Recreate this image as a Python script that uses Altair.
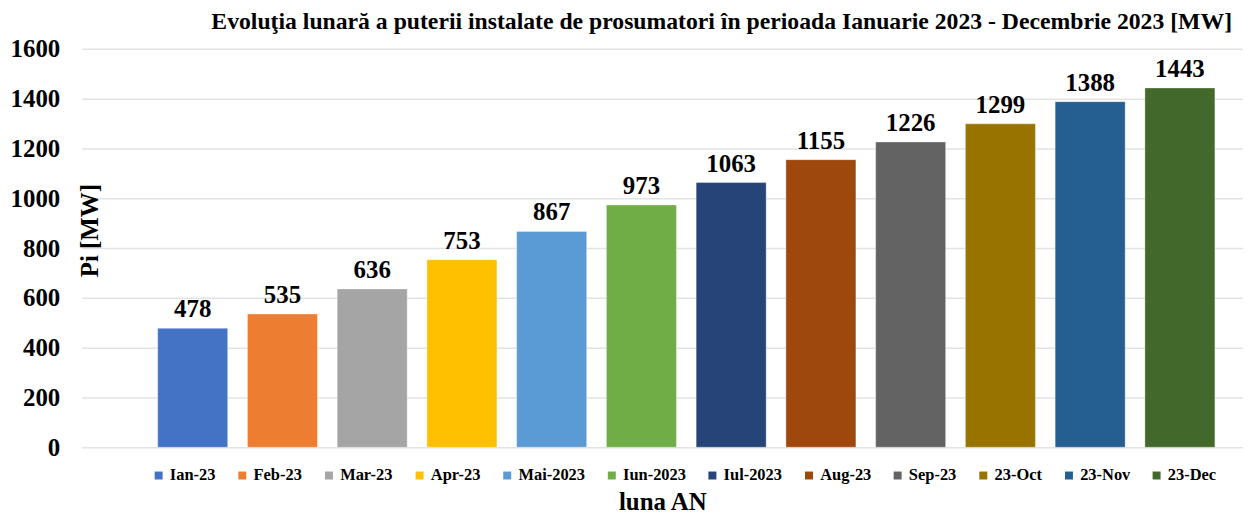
import altair as alt
import pandas as pd

months = ["Ian-23", "Feb-23", "Mar-23", "Apr-23", "Mai-2023", "Iun-2023",
          "Iul-2023", "Aug-23", "Sep-23", "23-Oct", "23-Nov", "23-Dec"]
values = [478, 535, 636, 753, 867, 973, 1063, 1155, 1226, 1299, 1388, 1443]
colors = ["#4472C4", "#ED7D31", "#A5A5A5", "#FFC000", "#5B9BD5", "#70AD47",
          "#264478", "#9E480E", "#636363", "#997300", "#255E91", "#43682B"]
y_ticks = [0, 200, 400, 600, 800, 1000, 1200, 1400, 1600]

df = pd.DataFrame({"luna": months, "Pi": values})
FONT = "Liberation Serif"

x = alt.X("luna:N", sort=months,
          scale=alt.Scale(domain=months, paddingInner=0.22, paddingOuter=0.58, align=0.73),
          axis=alt.Axis(title="luna AN", labels=False, ticks=False, domain=False, grid=False,
                        titleFont=FONT, titleFontSize=25, titleFontWeight="bold", titleColor="#000000",
                        titleBaseline="alphabetic", titleY=63))
y = alt.Y("Pi:Q", scale=alt.Scale(domain=[0, 1600], nice=False),
          axis=alt.Axis(title="Pi [MW]", values=y_ticks, format="d", ticks=False, domain=False,
                        grid=True, gridColor="#E3E3E3", gridWidth=1.5,
                        labelFont=FONT, labelFontSize=25, labelFontWeight="bold", labelColor="#000000",
                        labelPadding=22,
                        titleFont=FONT, titleFontSize=25, titleFontWeight="bold", titleColor="#000000",
                        titleAngle=-90, titleX=21, titleY=182, titleBaseline="bottom", titleAlign="center"))

bars = alt.Chart(df).mark_bar(stroke="#ffffff", strokeOpacity=0.35, strokeWidth=1).encode(
    x=x, y=y,
    color=alt.Color("luna:N", sort=months,
                    scale=alt.Scale(domain=months, range=colors),
                    legend=alt.Legend(title=None, orient="none", legendX=69, legendY=420,
                                      direction="horizontal", columns=12, columnPadding=18,
                                      symbolType="square", symbolSize=64, symbolStrokeWidth=0,
                                      labelFont=FONT, labelFontSize=16.5, labelFontWeight="bold",
                                      labelColor="#000000", labelOffset=3, labelLimit=200)),
)

labels = alt.Chart(df).mark_text(baseline="bottom", dy=-6, font=FONT, fontSize=25,
                                 fontWeight="bold", color="#000000").encode(
    x=x, y=y, text=alt.Text("Pi:Q"))

chart = (bars + labels).properties(
    width=1166, height=400,
    autosize=alt.AutoSizeParams(type="none"),
    padding={"left": 74, "top": 40, "right": 0, "bottom": 70},
    title=alt.TitleParams(
        "Evoluţia lunară a puterii instalate de prosumatori în perioada Ianuarie 2023 - Decembrie 2023 [MW]",
        anchor="end", frame="group", font=FONT, fontSize=23.8, fontWeight="bold",
        color="#000000", offset=3, dx=-11),
).configure_view(stroke=None)

chart.save("out.html", embed_options={"renderer": "svg", "actions": False})
